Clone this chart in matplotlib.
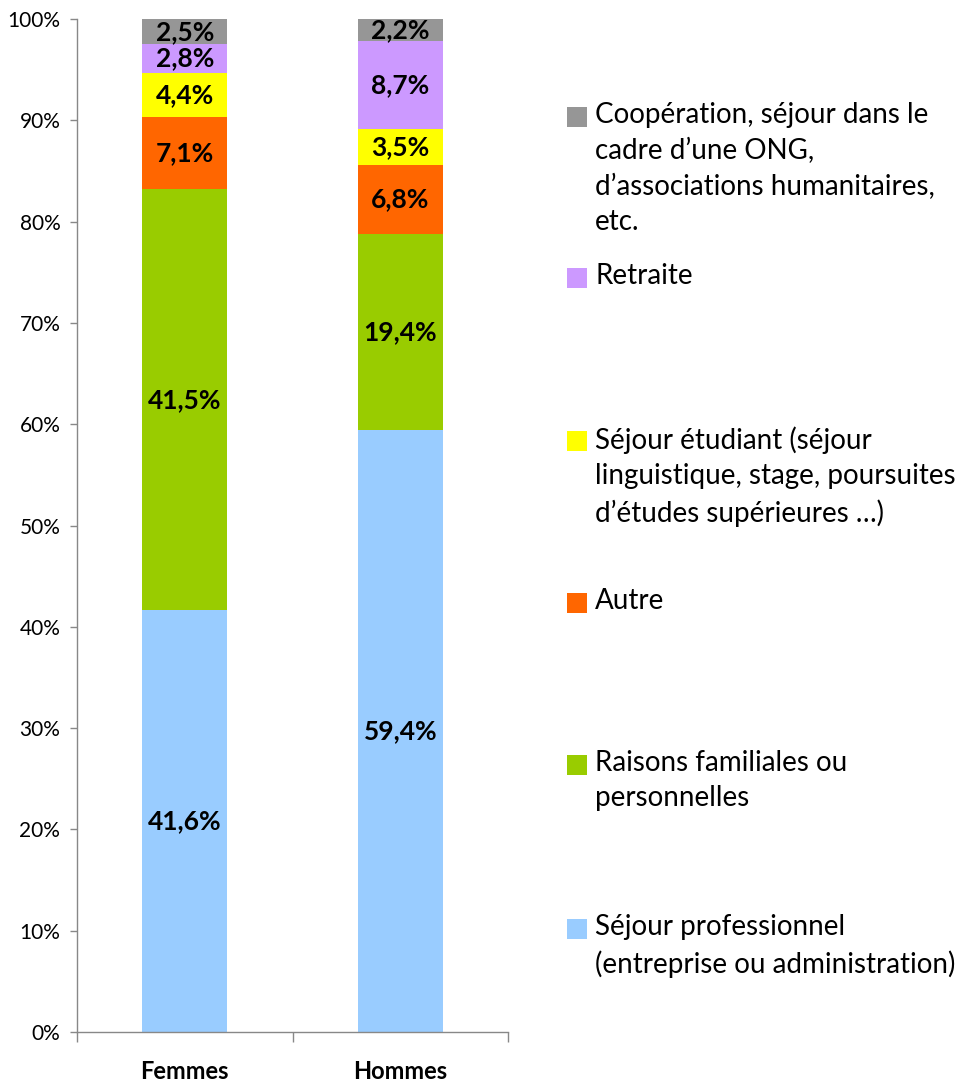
import matplotlib
matplotlib.use("Agg")
import matplotlib.pyplot as plt
import numpy as np
from matplotlib.patches import Rectangle

plt.rcParams['font.family'] = ['Lato', 'DejaVu Sans']

categories = ["Femmes", "Hommes"]
series_names = [
    "Séjour professionnel\n(entreprise ou administration)",
    "Raisons familiales ou\npersonnelles",
    "Autre",
    "Séjour étudiant (séjour\nlinguistique, stage, poursuites\nd’études supérieures …)",
    "Retraite",
    "Coopération, séjour dans le\ncadre d’une ONG,\nd’associations humanitaires,\netc.",
]
femmes = [41.6, 41.5, 7.1, 4.4, 2.8, 2.5]
hommes = [59.4, 19.4, 6.8, 3.5, 8.7, 2.2]
labels_femmes = ["41,6%", "41,5%", "7,1%", "4,4%", "2,8%", "2,5%"]
labels_hommes = ["59,4%", "19,4%", "6,8%", "3,5%", "8,7%", "2,2%"]
colors = ["#99CCFF", "#99CC00", "#FF6600", "#FFFF00", "#CC99FF", "#969696"]
yticks = [0, 10, 20, 30, 40, 50, 60, 70, 80, 90, 100]
ytick_labels = [f"{t}%" for t in yticks]

W, H = 971, 1085
fig = plt.figure(figsize=(W / 100, H / 100), dpi=100)
ax = fig.add_axes([77 / W, (H - 1032) / H, (508 - 77) / W, (1032 - 19) / H])

data = np.array([femmes, hommes]).T  # series x categories
totals = data.sum(axis=0)
frac = data / totals * 100
x = np.arange(len(categories))
bottom = np.zeros(len(categories))
all_labels = [labels_femmes, labels_hommes]
for i, (name, col) in enumerate(zip(series_names, colors)):
    ax.bar(x, frac[i], bottom=bottom, width=0.395, color=col, edgecolor='none', zorder=2)
    for j in range(len(categories)):
        ax.text(x[j], bottom[j] + frac[i][j] / 2, all_labels[j][i], ha='center', va='center',
                fontsize=19, fontweight='bold', color='black', zorder=3)
    bottom += frac[i]

ax.set_xlim(-0.5, 1.5)
ax.set_ylim(0, 100)
ax.set_yticks(yticks)
ax.set_yticklabels(ytick_labels, fontsize=15)
ax.set_xticks([-0.5, 0.5, 1.5])
ax.set_xticklabels([])
ax.xaxis.set_minor_locator(matplotlib.ticker.FixedLocator(x))
ax.xaxis.set_minor_formatter(matplotlib.ticker.FixedFormatter(categories))
ax.tick_params(axis='x', which='minor', length=0, pad=20, labelsize=17)
for lab in ax.get_xticklabels(minor=True):
    lab.set_fontweight('bold')
ax.tick_params(axis='x', which='major', length=7, width=1, color='#888888', direction='out')
ax.tick_params(axis='y', length=5, width=1, color='#888888', direction='out', pad=7)
for s in ['top', 'right']:
    ax.spines[s].set_visible(False)
for s in ['left', 'bottom']:
    ax.spines[s].set_color('#888888')
    ax.spines[s].set_linewidth(1)

# legend (Excel-style, spread out)
legend_y = [117, 278, 441, 603, 765, 929]  # pixel centers of first line, top to bottom
order = list(range(len(series_names)))[::-1]
for k, i in enumerate(order):
    yc = legend_y[k]
    fig.patches.append(Rectangle((567 / W, (H - yc - 10) / H), 20 / W, 20 / H,
                                 transform=fig.transFigure, facecolor=colors[i], edgecolor='none'))
    fig.text(595 / W, (H - yc + 15) / H, series_names[i], ha='left', va='top',
             fontsize=20, linespacing=1.45, color='black')

fig.savefig("out.png", dpi=100)
